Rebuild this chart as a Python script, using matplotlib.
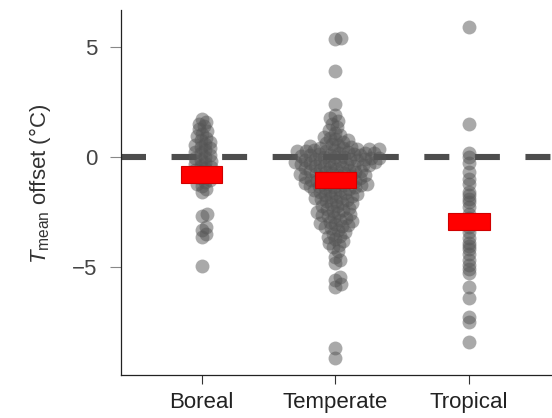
import numpy as np
import matplotlib
matplotlib.use("Agg")
import matplotlib.pyplot as plt

plt.rcParams["font.family"] = ["Liberation Sans", "DejaVu Sans"]
plt.rcParams["mathtext.fontset"] = "custom"
plt.rcParams["mathtext.rm"] = "Liberation Sans"
plt.rcParams["mathtext.it"] = "Liberation Sans:italic"
plt.rcParams["lines.scale_dashes"] = False

# data
biomes = ["Boreal", "Temperate", "Tropical"]

boreal = [1.72, 1.6, 1.5, 1.38, 1.25, 1.15, 1.05, 0.95, 0.85, 0.75, 0.68,
          0.6, 0.52, 0.45, 0.38, 0.3, 0.22, 0.15, 0.08, 0.0, -0.07, -0.14,
          -0.2, -0.27, -0.33, -0.4, -0.46, -0.53, -0.6, -0.67, -0.74, -0.82,
          -0.9, -0.98, -1.06, -1.15, -1.25, -1.35, -1.48, -1.62,
          -2.6, -2.7, -3.2, -3.35, -3.5, -3.65, -4.95]

temperate = [5.4, 5.35, 3.9, 2.4,
             1.9, 1.75, 1.62, 1.5, 1.35, 1.22, 1.1,
             0.98, 0.92, 0.85, 0.8, 0.74, 0.68, 0.62, 0.57, 0.52, 0.47,
             0.44, 0.41, 0.4, 0.37, 0.35, 0.34, 0.31, 0.29, 0.28, 0.25,
             0.24, 0.22, 0.19, 0.18, 0.16, 0.13, 0.12, 0.1, 0.07, 0.06,
             0.04, 0.01, 0.0, -0.02, -0.05, -0.06, -0.08, -0.11, -0.12, -0.14,
             -0.17, -0.18, -0.2, -0.23, -0.24, -0.26, -0.29, -0.3, -0.32, -0.35,
             -0.36, -0.38, -0.41, -0.42, -0.44, -0.47, -0.49, -0.52, -0.55, -0.58,
             -0.61, -0.63, -0.66, -0.68, -0.7, -0.73, -0.75, -0.78, -0.8, -0.82,
             -0.85, -0.87, -0.9, -0.92, -0.95, -0.97, -1.0, -1.02, -1.05, -1.08,
             -1.1, -1.13, -1.15, -1.18, -1.2, -1.23, -1.25, -1.28, -1.3, -1.33,
             -1.35, -1.37, -1.39,
             -1.42, -1.45, -1.49, -1.52, -1.56, -1.6, -1.63, -1.67, -1.7, -1.74,
             -1.78, -1.81, -1.85, -1.88, -1.92, -1.95, -1.99,
             -2.03, -2.08, -2.12, -2.17, -2.22, -2.26, -2.31, -2.36, -2.4, -2.45,
             -2.5, -2.55, -2.6, -2.65, -2.7, -2.75, -2.8, -2.86, -2.91, -2.96,
             -3.0, -3.05, -3.1, -3.15, -3.19,
             -3.25, -3.33, -3.42, -3.5, -3.58, -3.66, -3.75, -3.84, -3.93, -4.02,
             -4.12, -4.3, -4.55, -4.7, -4.85, -5.45, -5.6, -5.8, -5.9,
             -8.7, -9.15]

tropical = [5.9, 1.5, 0.15, 0.0, -0.3, -0.7, -1.0, -1.25, -1.6, -1.75, -1.9,
            -2.05, -2.3, -2.6, -2.8, -3.0, -3.2, -3.4, -3.7, -3.9, -4.05,
            -4.2, -4.4, -4.7, -4.9, -5.1, -5.3, -5.9, -6.4, -7.3, -7.5, -8.4]

groups = [boreal, temperate, tropical]
means = [-0.80, -1.06, -2.95]


def swarm_offsets(ypix, d):
    # simple beeswarm in pixel units: lowest points first, nearest free slot
    xs = np.zeros(len(ypix))
    placed = []
    for i in np.argsort(ypix):
        y = ypix[i]
        cands = [0.0]
        for xj, yj in placed:
            dy = y - yj
            if abs(dy) < d:
                dx = np.sqrt(d * d - dy * dy)
                cands += [xj + dx, xj - dx]
        cands.sort(key=abs)
        for c in cands:
            if all((c - xj) ** 2 + (y - yj) ** 2 >= d * d - 1e-6 for xj, yj in placed):
                xs[i] = c
                break
        placed.append((xs[i], y))
    return xs


fig = plt.figure(figsize=(5.52, 4.18), dpi=100)
ax = fig.add_axes([121 / 552, 43 / 418, 431 / 552, 365 / 418])
ax.set_xlim(-0.604, 2.62)
ax.set_ylim(-9.92, 6.67)

# pixel scale of the data axes
p0 = ax.transData.transform((0, 0))
p1 = ax.transData.transform((1, 1))
sx, sy = p1[0] - p0[0], p1[1] - p0[1]

ax.axhline(0, color="#4d4d4d", lw=4.4, ls=(0, (18, 18.4)), zorder=1)

spacing = [5.5, 6.0, 3.0]
for k, vals in enumerate(groups):
    v = np.array(vals)
    off = swarm_offsets(v * sy, spacing[k]) / sx
    ax.scatter(k + off, v, s=100, color="#555555", alpha=0.5,
               linewidths=0, zorder=2)

pos = np.arange(len(biomes))
bar_h = 0.76
ax.bar(pos, bar_h, bottom=np.array(means) - bar_h / 2, width=0.31,
       color="#ff0000", edgecolor="#d00000", linewidth=0.8, zorder=3)

ax.set_xticks(pos)
ax.set_xticklabels(biomes, fontsize=16, color="#222222")
ax.set_yticks([-5, 0, 5])
ax.set_yticklabels(["\u22125", "0", "5"], fontsize=16, color="#444444")
ax.tick_params(axis="x", length=6.5, width=0.8, color="#333333", pad=6)
ax.tick_params(axis="y", length=8, width=0.8, color="#888888", pad=9)
ax.set_ylabel(r"$T_{\mathrm{mean}}$ offset (°C)", fontsize=16,
              color="#333333", labelpad=14)
ax.yaxis.label.set_y(0.525)

for s in ["top", "right"]:
    ax.spines[s].set_visible(False)
for s in ["left", "bottom"]:
    ax.spines[s].set_linewidth(0.9)
    ax.spines[s].set_color("#222222")

fig.savefig("out.png", dpi=100)
